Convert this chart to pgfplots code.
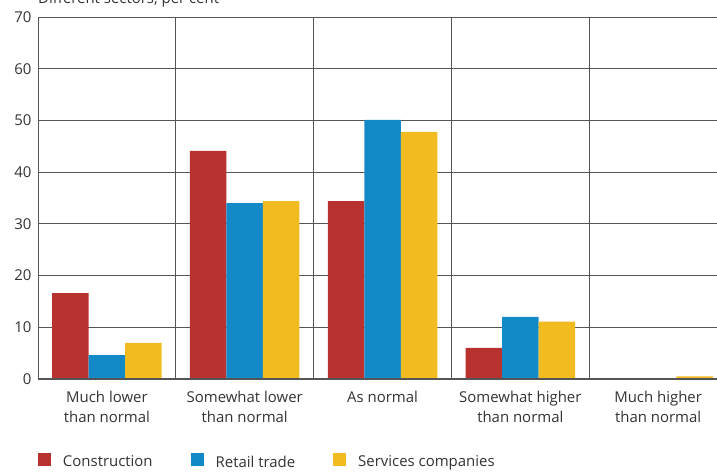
\documentclass[border=0pt]{standalone}
\usepackage{fontspec}
\setmainfont{Open Sans}
\usepackage{pgfplots}
\pgfplotsset{compat=1.18}
\definecolor{cRed}{HTML}{B83230}
\definecolor{cBlue}{HTML}{1489C8}
\definecolor{cYel}{HTML}{F2BC20}
\definecolor{cTxt}{HTML}{333333}
\definecolor{cGrid}{HTML}{555555}
\begin{document}
\begin{tikzpicture}[x=1bp,y=1bp,font=\fontsize{15}{19.5}\selectfont,text=cTxt]
\path[use as bounding box] (0,0) rectangle (717,475);
\begin{axis}[
  at={(38bp,96bp)}, anchor=south west,
  scale only axis, width=689bp, height=362bp,
  ybar=0pt, bar width=36.5bp,
  xmin=-0.5, xmax=4.5, ymin=0, ymax=70,
  ytick={0,10,...,70},
  xtick={0,1,2,3,4},
  xticklabels={{Much lower\\than normal},{Somewhat lower\\than normal},{As normal},{Somewhat higher\\than normal},{Much higher\\than normal}},
  xticklabel style={align=center, font=\fontsize{15}{19.5}\selectfont, anchor=north, yshift=-9bp},
  extra x ticks={0.5,1.5,2.5,3.5},
  extra x tick labels={},
  extra x tick style={grid=major, major grid style={cGrid, line width=0.8bp}, major tick length=0pt},
  major tick length=0pt,
  ymajorgrids, major grid style={cGrid, line width=0.8bp},
  axis line style={cGrid, line width=0.8bp},
  /pgf/number format/assume math mode=true,
  yticklabel style={font=\fontsize{15}{18}\selectfont, xshift=-3bp},
  legend columns=3,
  legend style={at={(rel axis cs:0,-0.205)}, anchor=north west, draw=none, inner sep=0pt, outer sep=0pt,
    font=\fontsize{15}{18}\selectfont,
    /tikz/every even column/.append style={column sep=36bp},
    /tikz/every odd column/.append style={column sep=10bp}},
  legend image code/.code={\fill[#1] (0bp,-4bp) rectangle (13bp,9bp);},
  enlarge x limits=false,
  clip=false,
]
\addplot[draw=none, fill=cRed] coordinates {(0,16.6) (1,44.1) (2,34.4) (3,6.0) (4,0)};
\addplot[draw=none, fill=cBlue] coordinates {(0,4.6) (1,34.0) (2,50.1) (3,12.0) (4,0)};
\addplot[draw=none, fill=cYel] coordinates {(0,7.0) (1,34.4) (2,47.8) (3,11.1) (4,0.5)};
\legend{Construction, Retail trade, Services companies}
\draw[cGrid, line width=1.8bp] (rel axis cs:0,0) -- (rel axis cs:1,0);
\node[anchor=base west, inner sep=0pt] at ([yshift=13bp]rel axis cs:0,1) {Different sectors, per cent};
\end{axis}
\end{tikzpicture}
\end{document}
